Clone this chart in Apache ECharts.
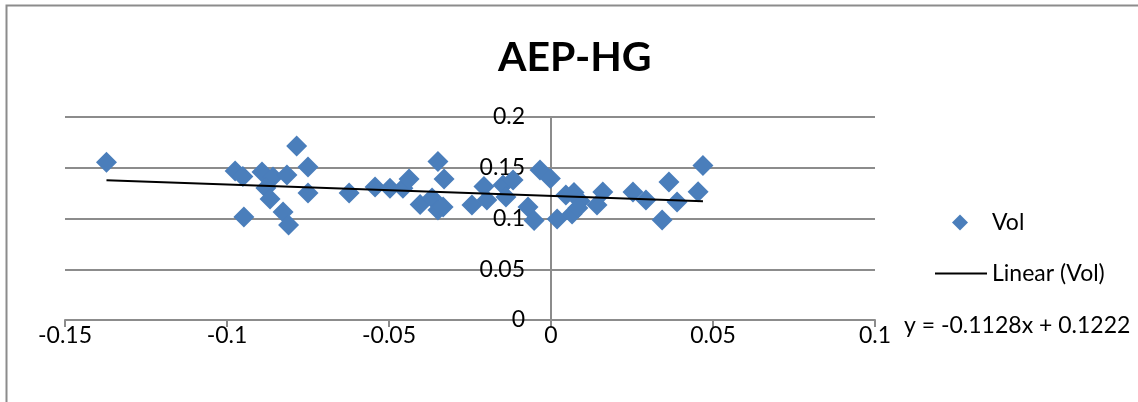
<!DOCTYPE html>
<html>
<head>
<meta charset="utf-8">
<script src="https://cdn.jsdelivr.net/npm/echarts@6/dist/echarts.min.js"></script>
<style>
  html, body { margin: 0; padding: 0; background: #fff; }
  #chart { width: 1138px; height: 402px; }
</style>
</head>
<body>
<div id="chart"></div>
<script>
// values
const volX = [
  -0.1372, -0.0975, -0.0951, -0.0892, -0.0858, -0.0815, -0.0880, -0.0867, -0.0948, -0.0827,
  -0.0810, -0.0785, -0.0750, -0.0750, -0.0623, -0.0543, -0.0497, -0.0457, -0.0438, -0.0349,
  -0.0330, -0.0404, -0.0367, -0.0349, -0.0333, -0.0244, -0.0207, -0.0198, -0.0148, -0.0117,
  -0.0139, -0.0034, -0.0002, -0.0071, -0.0052, 0.0019, 0.0046, 0.0071, 0.0090, 0.0065,
  0.0083, 0.0142, 0.0160, 0.0253, 0.0293, 0.0364, 0.0389, 0.0343, 0.0469, 0.0454
];
const volY = [
  0.1554, 0.1468, 0.1414, 0.1458, 0.1409, 0.1429, 0.1300, 0.1192, 0.1015, 0.1064,
  0.0936, 0.1714, 0.1507, 0.1251, 0.1251, 0.1310, 0.1298, 0.1298, 0.1389, 0.1562,
  0.1389, 0.1138, 0.1202, 0.1084, 0.1113, 0.1133, 0.1315, 0.1182, 0.1330, 0.1379,
  0.1212, 0.1478, 0.1394, 0.1113, 0.0980, 0.0995, 0.1232, 0.1256, 0.1172, 0.1044,
  0.1103, 0.1133, 0.1261, 0.1261, 0.1182, 0.1360, 0.1163, 0.0985, 0.1522, 0.1264
];
const trendSlope = -0.1128;
const trendIntercept = 0.1222;
const xTicks = [-0.15, 0.1, 0.05];   // min, max, interval
const yTicks = [0, 0.2, 0.05];

const chart = echarts.init(document.getElementById('chart'));

const xMinData = Math.min(...volX);
const xMaxData = Math.max(...volX);
const trend = [xMinData, xMaxData].map(x => [x, trendSlope * x + trendIntercept]);

const gray = '#8c8c8c';
const font = 'Lato, "Open Sans", sans-serif';

// grid geometry, y axis sits where x = 0
const gridLeft = 65, gridRight = 263;
const plotW = 1138 - gridLeft - gridRight;
const yAxisShift = plotW * (0 - xTicks[0]) / (xTicks[1] - xTicks[0]);

const option = {
  backgroundColor: '#fff',
  animation: false,
  title: {
    text: 'AEP-HG',
    left: 493,
    top: 32,
    textStyle: { fontFamily: font, fontSize: 41, fontWeight: 'bold', color: '#000' }
  },
  grid: { left: gridLeft, right: gridRight, top: 117, bottom: 82, outerBoundsMode: 'none', containLabel: false },
  legend: [
    {
      data: [{ name: 'Vol', icon: 'diamond' }],
      left: 952,
      top: 211,
      padding: 0,
      itemWidth: 16,
      itemHeight: 16,
      textStyle: { fontFamily: font, fontSize: 23, color: '#000', padding: [0, 0, 0, 19] }
    },
    {
      data: [{ name: 'Linear (Vol)', icon: 'rect', itemStyle: { color: '#000' } }],
      left: 935,
      top: 262,
      padding: 0,
      itemWidth: 52,
      itemHeight: 2,
      textStyle: { fontFamily: font, fontSize: 23, color: '#000' }
    }
  ],
  xAxis: {
    type: 'value',
    min: xTicks[0],
    max: xTicks[1],
    interval: xTicks[2],
    axisLine: { onZero: false, lineStyle: { color: gray, width: 2 } },
    axisTick: { show: true, length: 7, lineStyle: { color: gray, width: 2 } },
    axisLabel: { margin: 4, fontFamily: font, fontSize: 23, color: '#000' },
    splitLine: { show: false }
  },
  yAxis: {
    type: 'value',
    position: 'left',
    offset: -yAxisShift,
    min: yTicks[0],
    max: yTicks[1],
    interval: yTicks[2],
    axisLine: { show: true, onZero: false, lineStyle: { color: gray, width: 2 } },
    axisTick: { show: true, length: 7, lineStyle: { color: gray, width: 2 } },
    axisLabel: { margin: 26, fontFamily: font, fontSize: 23, color: '#000' },
    splitLine: { show: true, lineStyle: { color: gray, width: 2 } }
  },
  series: [
    {
      name: 'Vol',
      type: 'scatter',
      symbol: 'diamond',
      symbolSize: 21,
      itemStyle: { color: '#4a7ebb', opacity: 1 },
      data: volX.map((x, i) => [x, volY[i]]),
      z: 3
    },
    {
      name: 'Linear (Vol)',
      type: 'line',
      showSymbol: false,
      symbol: 'none',
      lineStyle: { color: '#000', width: 2 },
      itemStyle: { color: '#000' },
      data: trend,
      z: 4
    }
  ],
  graphic: [
    {
      type: 'polyline',
      shape: { points: [[6.5, 402], [6.5, 5.5], [1138, 5.5]] },
      style: { stroke: gray, lineWidth: 2, fill: null }
    },
    {
      type: 'text',
      left: 904,
      top: 314,
      style: {
        text: 'y = -0.1128x + 0.1222',
        font: '23px ' + font,
        fill: '#000'
      }
    }
  ]
};

chart.setOption(option);
</script>
</body>
</html>
